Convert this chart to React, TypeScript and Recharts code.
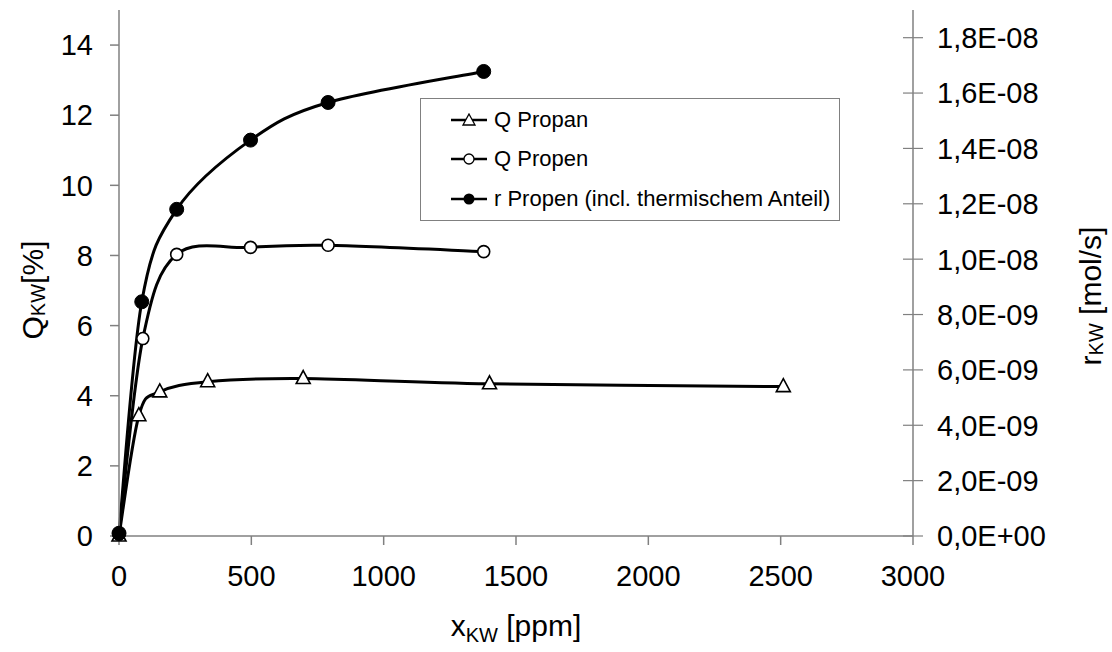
import React from "react";
import {
  LineChart,
  Line,
  XAxis,
  YAxis,
  Legend,
  Label,
} from "recharts";

// x positions [ppm] and values
const propanX = [0, 75, 154, 335, 696, 1400, 2510];
const propanQ = [0, 3.43, 4.11, 4.4, 4.49, 4.34, 4.26];

const propenX = [0, 90, 218, 497, 790, 1378];
const propenQ = [0.05, 5.63, 8.03, 8.23, 8.29, 8.11];

const propenRX = [0, 86, 218, 497, 790, 1378];
const propenR = [0.1e-9, 8.46e-9, 1.18e-8, 1.43e-8, 1.566e-8, 1.678e-8];

const xTicks = [0, 500, 1000, 1500, 2000, 2500, 3000];
const qTicks = [0, 2, 4, 6, 8, 10, 12, 14];
const rTicks = [0, 2e-9, 4e-9, 6e-9, 8e-9, 1e-8, 1.2e-8, 1.4e-8, 1.6e-8, 1.8e-8];

const seriesNames = ["Q Propan", "Q Propen", "r Propen (incl. thermischem Anteil)"];

const propanData = propanX.map((x, i) => ({ x, q: propanQ[i] }));
const propenData = propenX.map((x, i) => ({ x, q: propenQ[i] }));
const rateData = propenRX.map((x, i) => ({ x, r: propenR[i] }));

const FONT = "'Liberation Sans', Arial, sans-serif";
const AXIS = "#808080";
const TICK_FONT = 29;
const TITLE_FONT = 30;
const SUB_FONT = 20;

// Excel-like smoothing: cubic bezier with control points at 1/6 of neighbour span
function smoothCurve(context: any) {
  let pts: number[][] = [];
  return {
    areaStart() {},
    areaEnd() {},
    lineStart() {
      pts = [];
    },
    point(x: number, y: number) {
      pts.push([+x, +y]);
    },
    lineEnd() {
      if (!pts.length) return;
      context.moveTo(pts[0][0], pts[0][1]);
      for (let i = 0; i < pts.length - 1; i++) {
        const p0 = pts[Math.max(0, i - 1)];
        const p1 = pts[i];
        const p2 = pts[i + 1];
        const p3 = pts[Math.min(pts.length - 1, i + 2)];
        context.bezierCurveTo(
          p1[0] + (p2[0] - p0[0]) / 6,
          p1[1] + (p2[1] - p0[1]) / 6,
          p2[0] - (p3[0] - p1[0]) / 6,
          p2[1] - (p3[1] - p1[1]) / 6,
          p2[0],
          p2[1]
        );
      }
    },
  };
}

function sci(v: number) {
  if (v === 0) return "0,0E+00";
  let exp = Math.floor(Math.log10(v));
  let mant = +(v / Math.pow(10, exp)).toFixed(1);
  if (mant >= 10) {
    mant = mant / 10;
    exp += 1;
  }
  const sign = exp < 0 ? "-" : "+";
  const e = String(Math.abs(exp)).padStart(2, "0");
  return mant.toFixed(1).replace(".", ",") + "E" + sign + e;
}

const Triangle = (props: any) => {
  const { cx, cy, key } = props;
  if (cx == null || cy == null) return null;
  return (
    <path
      key={key}
      d={`M${cx},${cy - 8} L${cx + 7},${cy + 5} L${cx - 7},${cy + 5} Z`}
      fill="#fff"
      stroke="#000"
      strokeWidth={1.6}
    />
  );
};

const RightTick = (props: any) => {
  const { x, y, payload } = props;
  const axisX = x - 24;
  return (
    <g>
      <line x1={axisX - 10} x2={axisX + 10} y1={y} y2={y} stroke={AXIS} strokeWidth={1.2} />
      <text x={x} y={y} dy="0.36em" textAnchor="start" fontSize={TICK_FONT} fontFamily={FONT} fill="#000">
        {sci(payload.value)}
      </text>
    </g>
  );
};

const LegendIcon = ({ kind }: { kind: number }) => (
  <svg width={40} height={14} style={{ display: "block" }}>
    <line x1={2} x2={38} y1={7} y2={7} stroke="#000" strokeWidth={2.5} />
    {kind === 0 && <path d="M20,1 L26,12 L14,12 Z" fill="#fff" stroke="#000" strokeWidth={1.3} />}
    {kind === 1 && <circle cx={20} cy={7} r={5} fill="#fff" stroke="#000" strokeWidth={1.3} />}
    {kind === 2 && <circle cx={20} cy={7} r={5.5} fill="#000" />}
  </svg>
);

const LegendBox = () => (
  <div
    style={{
      border: "1.5px solid #808080",
      background: "#fff",
      padding: "1px 0 1px 28px",
      width: 390,
      boxSizing: "content-box",
      fontFamily: FONT,
      fontSize: 22,
      color: "#000",
    }}
  >
    {seriesNames.map((name, i) => (
      <div key={name} style={{ display: "flex", alignItems: "center", height: 39.5 }}>
        <LegendIcon kind={i} />
        <span style={{ marginLeft: 5 }}>{name}</span>
      </div>
    ))}
  </div>
);

const QTitle = () => {
  const cx = 32;
  const cy = 290;
  return (
    <text
      transform={`rotate(-90 ${cx} ${cy})`}
      x={cx}
      y={cy}
      textAnchor="middle"
      dominantBaseline="central"
      fontFamily={FONT}
      fontSize={TITLE_FONT}
      fill="#000"
    >
      Q<tspan fontSize={SUB_FONT} dy={6}>KW</tspan>
      <tspan dy={-6}>[%]</tspan>
    </text>
  );
};

const RTitle = () => {
  const cx = 1090;
  const cy = 296;
  return (
    <text
      transform={`rotate(-90 ${cx} ${cy})`}
      x={cx}
      y={cy}
      textAnchor="middle"
      dominantBaseline="central"
      fontFamily={FONT}
      fontSize={TITLE_FONT}
      fill="#000"
    >
      r<tspan fontSize={SUB_FONT} dy={6}>KW</tspan>
      <tspan dy={-6}> [mol/s]</tspan>
    </text>
  );
};

const XTitle = () => (
  <text x={516} y={636} textAnchor="middle" fontFamily={FONT} fontSize={TITLE_FONT} fill="#000">
    x<tspan fontSize={SUB_FONT} dy={6}>KW</tspan>
    <tspan dy={-6}> [ppm]</tspan>
  </text>
);

export default function App() {
  return (
    <div style={{ position: "absolute", left: 0, top: 0, width: 1112, height: 652, background: "#fff" }}>
      <LineChart
        width={1112}
        height={652}
        margin={{ top: 10, right: 0, bottom: 0, left: 0 }}
        style={{ fontFamily: FONT }}
      >
        <XAxis
          type="number"
          dataKey="x"
          domain={[0, 3000]}
          ticks={xTicks}
          interval={0}
          height={116}
          allowDuplicatedCategory={false}
          stroke={AXIS}
          strokeWidth={1.5}
          tickSize={9}
          tickMargin={20}
          tick={{ fill: "#000", fontSize: TICK_FONT, fontFamily: FONT }}
        >
          <Label content={XTitle} />
        </XAxis>
        <YAxis
          yAxisId="q"
          type="number"
          domain={[0, 15]}
          ticks={qTicks}
          interval={0}
          width={119}
          stroke={AXIS}
          strokeWidth={1.5}
          tickSize={9}
          tickMargin={17}
          tick={{ fill: "#000", fontSize: TICK_FONT, fontFamily: FONT }}
        >
          <Label content={QTitle} />
        </YAxis>
        <YAxis
          yAxisId="r"
          orientation="right"
          type="number"
          domain={[0, 1.9e-8]}
          ticks={rTicks}
          interval={0}
          width={199}
          stroke={AXIS}
          strokeWidth={1.5}
          tickLine={false}
          tickSize={10}
          tickMargin={14}
          tick={<RightTick />}
        >
          <Label content={RTitle} />
        </YAxis>
        <Legend
          layout="vertical"
          align="center"
          verticalAlign="middle"
          content={<LegendBox />}
          wrapperStyle={{ left: 420, top: 98, width: "auto" }}
        />
        <Line
          yAxisId="q"
          data={propanData}
          dataKey="q"
          name={seriesNames[0]}
          type={smoothCurve as any}
          stroke="#000"
          strokeWidth={3}
          dot={Triangle}
          activeDot={false}
          isAnimationActive={false}
        />
        <Line
          yAxisId="q"
          data={propenData}
          dataKey="q"
          name={seriesNames[1]}
          type={smoothCurve as any}
          stroke="#000"
          strokeWidth={3}
          dot={{ r: 6, fill: "#fff", stroke: "#000", strokeWidth: 1.6 }}
          activeDot={false}
          isAnimationActive={false}
        />
        <Line
          yAxisId="r"
          data={rateData}
          dataKey="r"
          name={seriesNames[2]}
          type={smoothCurve as any}
          stroke="#000"
          strokeWidth={3}
          dot={{ r: 7, fill: "#000", stroke: "#000", strokeWidth: 1 }}
          activeDot={false}
          isAnimationActive={false}
        />
      </LineChart>
    </div>
  );
}
